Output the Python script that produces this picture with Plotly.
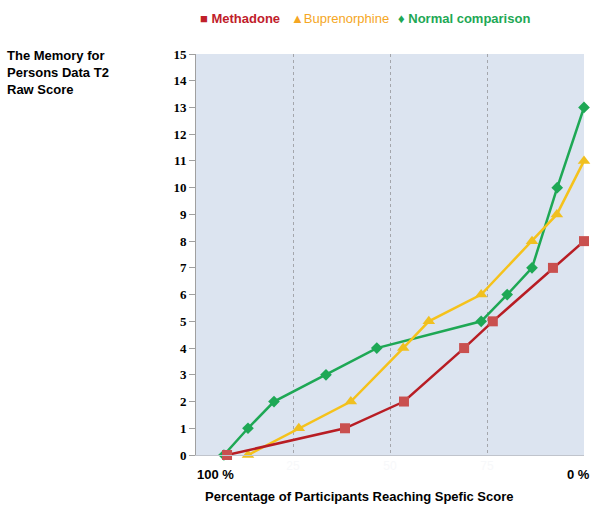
import plotly.graph_objects as go

# Data (x = position on percentage axis, y = raw score)
methadone_x = [8.0, 38.4, 53.6, 69.1, 76.5, 92.0, 100]
methadone_y = [0, 1, 2, 4, 5, 7, 8]
bup_x = [13.4, 26.5, 39.9, 53.4, 60.0, 73.5, 86.6, 93.0, 100]
bup_y = [0, 1, 2, 4, 5, 6, 8, 9, 11]
normal_x = [7.2, 13.4, 20.1, 33.5, 46.6, 73.5, 80.2, 86.6, 93.1, 100]
normal_y = [0, 1, 2, 3, 4, 5, 6, 7, 10, 13]

x_tickvals = [25, 50, 75, 100]
x_ticktext = ["25", "50", "75", ""]
y_tickvals = list(range(0, 16))

fig = go.Figure()
fig.add_trace(go.Scatter(x=normal_x, y=normal_y, mode="lines+markers", name="Normal comparison",
                         line=dict(color="#1EA855", width=2.5),
                         marker=dict(symbol="diamond", size=9, color="#1EA855"), cliponaxis=False))
fig.add_trace(go.Scatter(x=bup_x, y=bup_y, mode="lines+markers", name="Buprenorphine",
                         line=dict(color="#F5C21B", width=2.5),
                         marker=dict(symbol="triangle-up", size=11, color="#F0C020"), cliponaxis=False))
fig.add_trace(go.Scatter(x=methadone_x, y=methadone_y, mode="lines+markers", name="Methadone",
                         line=dict(color="#B81D24", width=2.5),
                         marker=dict(symbol="square", size=10, color="#C9504F"), cliponaxis=False))

L, R, T, B, W, H = 196, 16, 54, 62, 600, 517

fig.update_layout(
    width=W, height=H,
    margin=dict(l=L, r=R, t=T, b=B),
    paper_bgcolor="white", plot_bgcolor="#DCE4F0",
    showlegend=False,
    xaxis=dict(range=[0, 100], tickvals=x_tickvals, ticktext=x_ticktext,
               showgrid=True, gridcolor="#A4A6AC", griddash="dot", gridwidth=1,
               tickfont=dict(family="Liberation Sans", size=12, color="#F7F8FA"),
               showline=True, linecolor="#C0C4CC", linewidth=1, zeroline=False,
               ticks="", fixedrange=True),
    yaxis=dict(range=[0, 15], tickvals=y_tickvals, showgrid=False, zeroline=False,
               showline=True, linecolor="#A0A0A0", linewidth=1,
               ticks="outside", ticklen=6, tickcolor="#A0A0A0",
               tickfont=dict(family="Liberation Serif", size=13, color="black", weight="bold")),
)


def px_x(px):
    return (px - L) / (W - L - R)


def px_y(py):
    return (H - B - py) / (H - T - B)


bold = dict(family="Liberation Sans", size=13, color="black", weight="bold")

# Axis end labels
fig.add_annotation(text="100 %", x=0, y=0, xref="x", yref="y", yshift=-19, xshift=19,
                   yanchor="middle", showarrow=False, font=bold)
fig.add_annotation(text="0 %", x=100, y=0, xref="x", yref="y", yshift=-19, xshift=-6,
                   yanchor="middle", showarrow=False, font=bold)

# Axis titles
fig.add_annotation(text="The Memory for<br>Persons Data T2<br>Raw Score", x=px_x(5), y=px_y(46),
                   xref="paper", yref="paper", showarrow=False, align="left",
                   xanchor="left", yanchor="top", font=bold)
fig.add_annotation(text="Percentage of Participants Reaching Spefic Score", x=px_x(359), y=px_y(497),
                   xref="paper", yref="paper", xanchor="center", yanchor="middle",
                   showarrow=False, font=bold)

# Legend
fig.add_annotation(text="■ Methadone", x=px_x(198), y=px_y(18), xref="paper", yref="paper",
                   xanchor="left", yanchor="middle", showarrow=False,
                   font=dict(family="Liberation Sans", size=13, color="#C0202A", weight="bold"))
fig.add_annotation(text="▲Buprenorphine", x=px_x(289), y=px_y(18), xref="paper", yref="paper",
                   xanchor="left", yanchor="middle", showarrow=False,
                   font=dict(family="Liberation Sans", size=13, color="#F5A623"))
fig.add_annotation(text="♦ Normal comparison", x=px_x(396), y=px_y(18), xref="paper", yref="paper",
                   xanchor="left", yanchor="middle", showarrow=False,
                   font=dict(family="Liberation Sans", size=13, color="#1EA855", weight="bold"))

fig.write_html("out.html", config={"displayModeBar": False},
               post_script="document.body.style.margin='0';")
